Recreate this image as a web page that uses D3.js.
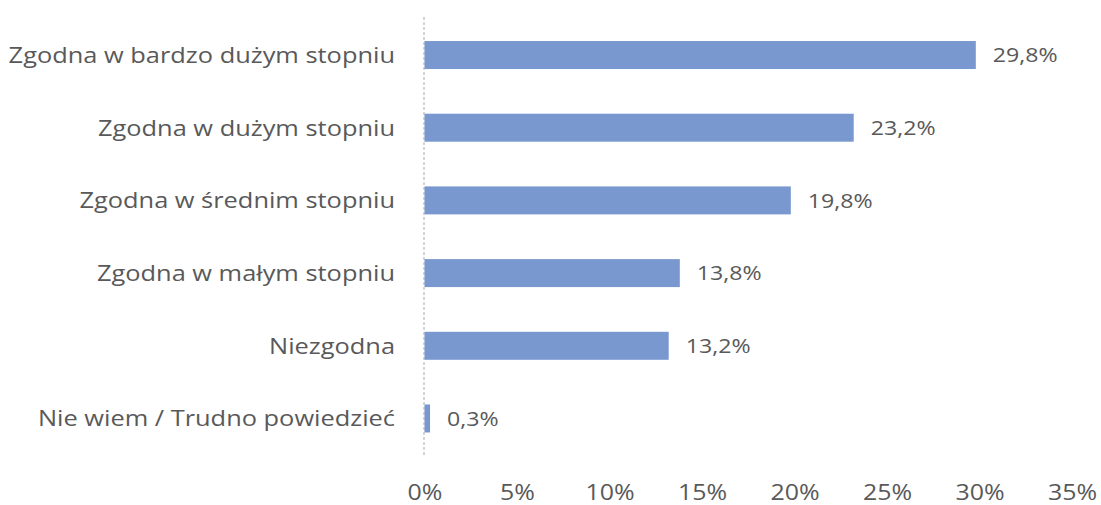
<!DOCTYPE html>
<html><head><meta charset="utf-8">
<script src="https://cdn.jsdelivr.net/npm/d3@7"></script>
<style>body{margin:0;background:#fff}svg{display:block}</style>
</head><body>
<svg id="c" width="1101" height="505"></svg>
<script>
const categories = ["Zgodna w bardzo dużym stopniu","Zgodna w dużym stopniu","Zgodna w średnim stopniu","Zgodna w małym stopniu","Niezgodna","Nie wiem / Trudno powiedzieć"];
const values = [29.8, 23.2, 19.8, 13.8, 13.2, 0.3];
const valueLabels = ["29,8%","23,2%","19,8%","13,8%","13,2%","0,3%"];
const ticks = [0,5,10,15,20,25,30,35];
const tickLabels = ["0%","5%","10%","15%","20%","25%","30%","35%"];

const svg = d3.select("#c");
const font = "'Open Sans', 'Noto Sans', sans-serif";
const textColor = "#595959";
const x = d3.scaleLinear().domain([0,35]).range([424.5,1072]);
const y = d3.scaleBand().domain(categories).range([18.5,455]).paddingInner(0.615).paddingOuter(0.31);
const cy = c => y(c) + y.bandwidth()/2;

svg.append("line").attr("x1",424).attr("x2",424).attr("y1",17).attr("y2",456)
  .attr("stroke","#c8c8c8").attr("stroke-width",1.5).attr("stroke-dasharray","3,2");

svg.selectAll("rect.bar").data(values).join("rect").attr("class","bar")
  .attr("x",x(0)).attr("y",(d,i)=>y(categories[i]))
  .attr("width",d=>x(d)-x(0)).attr("height",y.bandwidth())
  .attr("fill","#7898cf");

svg.selectAll("text.val").data(values).join("text").attr("class","val")
  .attr("transform",(d,i)=>`translate(${x(d)+17},${cy(categories[i])}) scale(1.13,1)`)
  .attr("dy","0.36em").attr("font-family",font).attr("font-size",20.5).attr("fill",textColor)
  .text((d,i)=>valueLabels[i]);

svg.selectAll("text.cat").data(categories).join("text").attr("class","cat")
  .attr("transform",d=>`translate(395,${cy(d)}) scale(1.155,1)`).attr("dy","0.36em")
  .attr("text-anchor","end").attr("font-family",font).attr("font-size",22).attr("fill",textColor)
  .text(d=>d);

const axis = d3.axisBottom(x).tickValues(ticks).tickFormat((d,i)=>tickLabels[i]).tickSize(0);
const g = svg.append("g").attr("transform","translate(0,478)").call(axis);
g.select(".domain").remove();
g.selectAll("text").attr("font-family",font).attr("font-size",21.5).attr("fill",textColor)
  .attr("y",0).attr("dy",0).attr("transform","translate(0,21.5) scale(1.16,1)");
</script>
</body></html>
